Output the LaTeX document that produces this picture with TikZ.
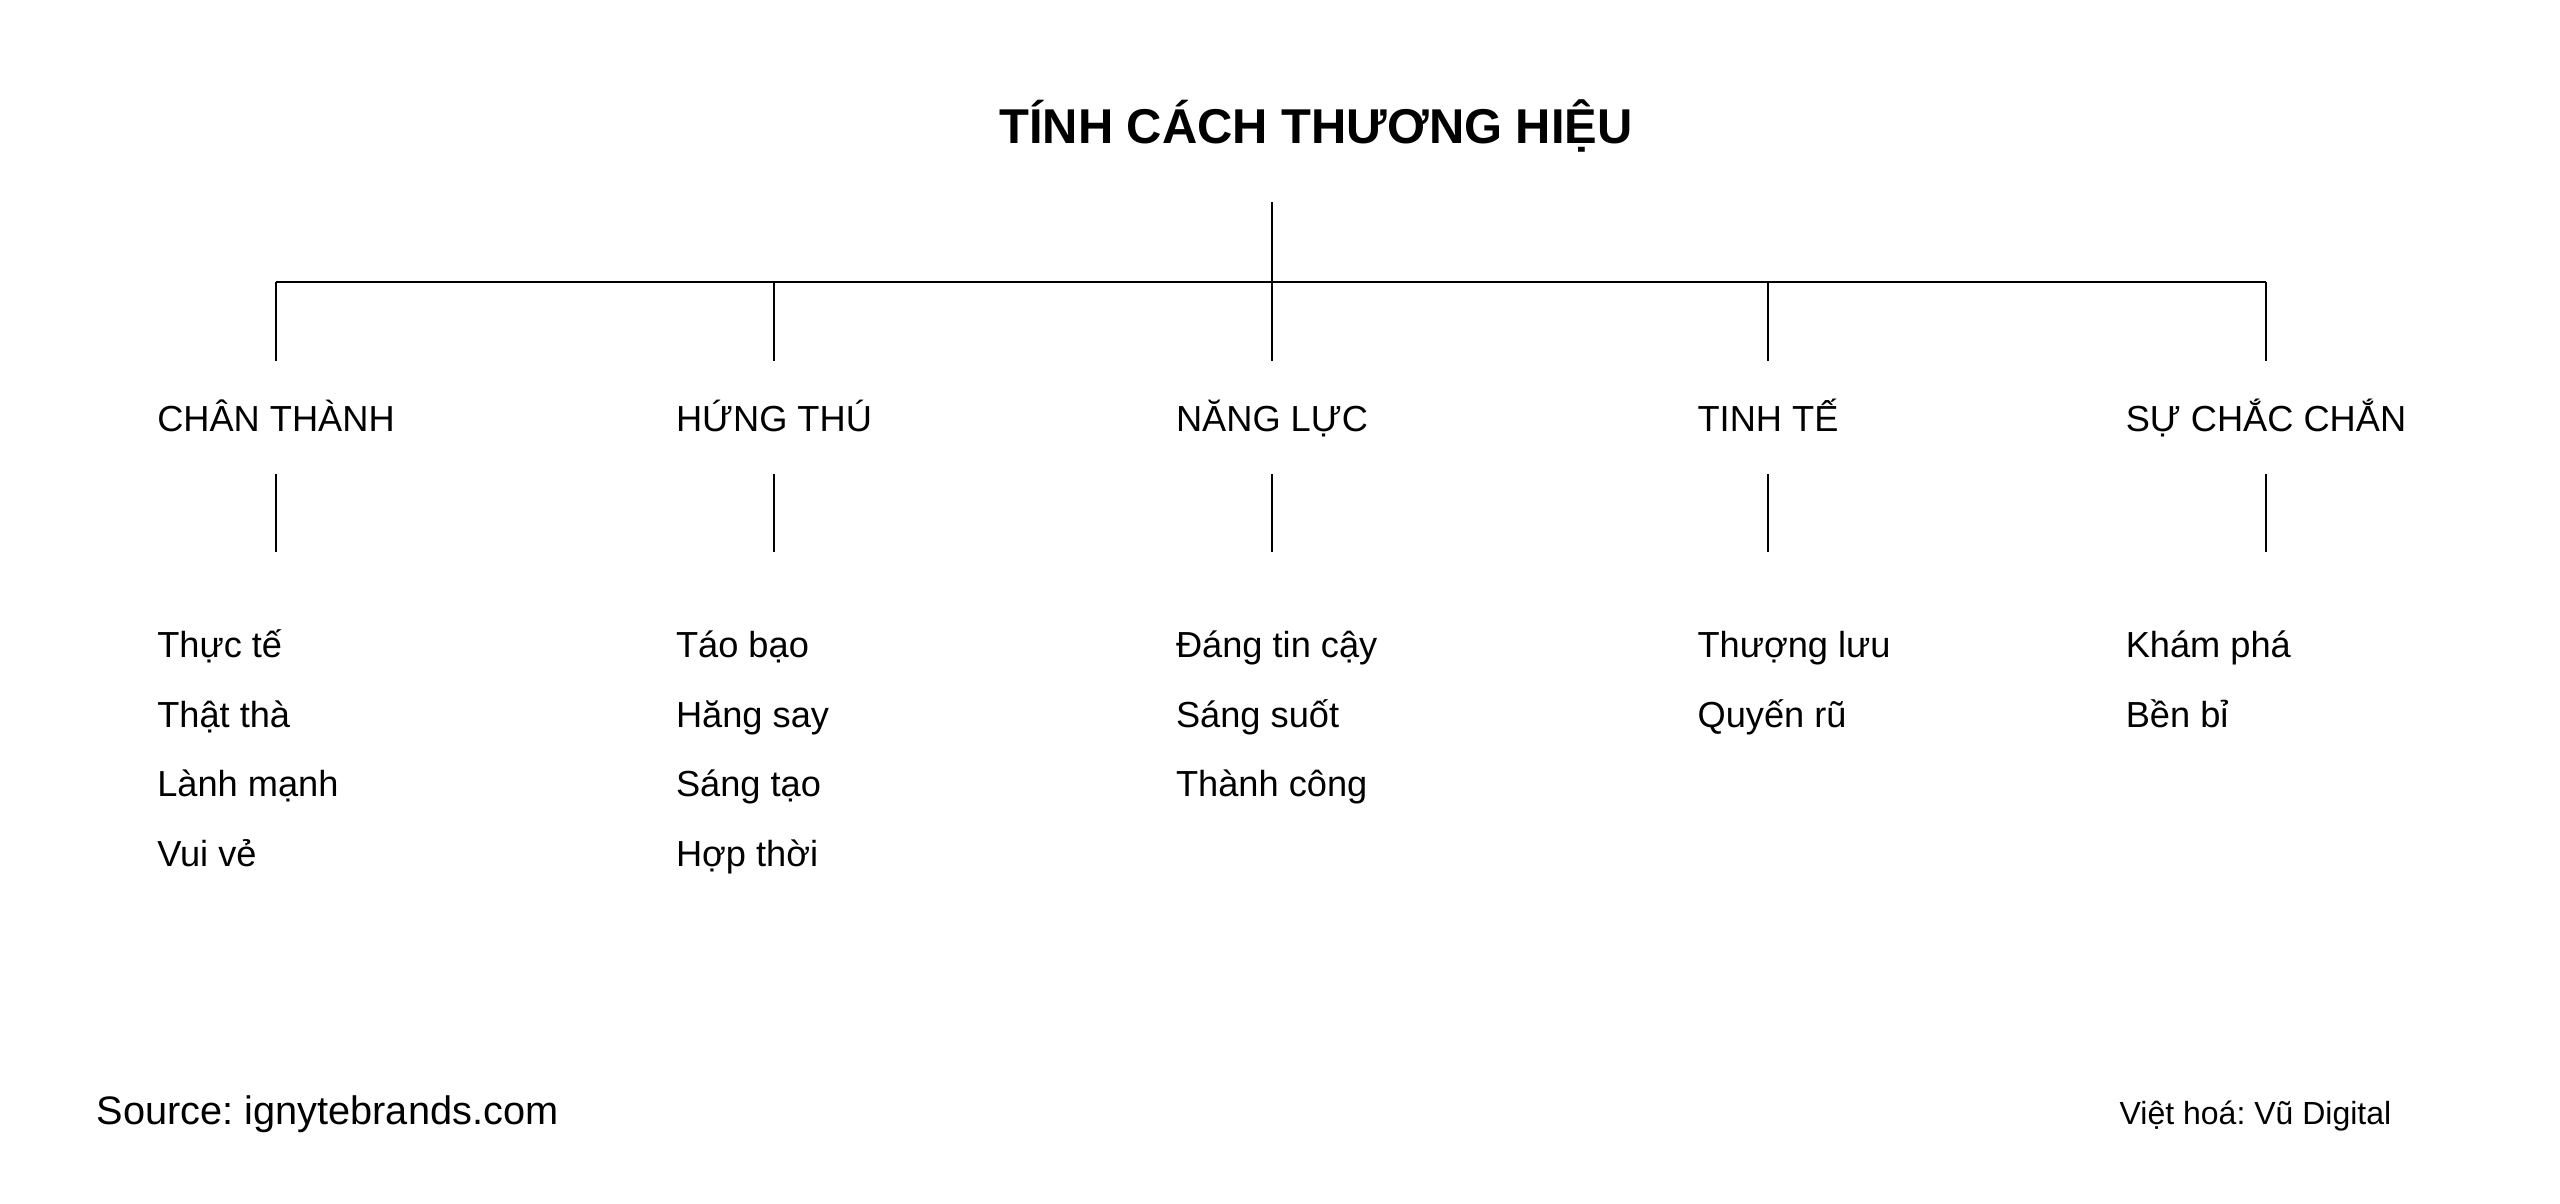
\documentclass[tikz,border=0pt]{standalone}
\usepackage{fontspec}
\setmainfont{Liberation Sans}
\frenchspacing
\begin{document}
\begin{tikzpicture}[x=0.01cm, y=-0.01cm,
    catlabel/.style={inner sep=0pt, anchor=base, font=\fontsize{10.3}{12}\selectfont},
    traitlabel/.style={inner sep=0pt, anchor=base west, font=\fontsize{10.3}{12}\selectfont},
    link/.style={line width=0.6pt}]
    \useasboundingbox (0,0) rectangle (2560,1204);
    \node [inner sep=0pt, anchor=base, font=\fontsize{13.9}{17}\selectfont\bfseries] (title) at (1316,144) {TÍNH CÁCH THƯƠNG HIỆU};
    \coordinate (root) at (1272,202);
    \coordinate (bar) at (1272,282);
    \coordinate (drop) at (1272,361);
    \coordinate (lotop) at (1272,474);
    \coordinate (lobot) at (1272,552);
    \node [catlabel] (cat1) at (276,432) {CHÂN THÀNH};
    \node [catlabel] (cat2) at (774,432) {HỨNG THÚ};
    \node [catlabel] (cat3) at (1272,432) {NĂNG LỰC};
    \node [catlabel] (cat4) at (1768,432) {TINH TẾ};
    \node [catlabel] (cat5) at (2266,432) {SỰ CHẮC CHẮN};
    \draw [link] (root) -- (bar);
    \draw [link] (cat1 |- bar) -- (cat5 |- bar);
    \foreach \i in {1,...,5} {
        \draw [link] (cat\i |- bar) -- (cat\i |- drop);
        \draw [link] (cat\i |- lotop) -- (cat\i |- lobot);
    }
    \node [traitlabel] (t11) at (cat1.west |- 0,658) {Thực tế};
    \node [traitlabel] (t12) at (cat1.west |- 0,728) {Thật thà};
    \node [traitlabel] (t13) at (cat1.west |- 0,797) {Lành mạnh};
    \node [traitlabel] (t14) at (cat1.west |- 0,867) {Vui vẻ};
    \node [traitlabel] (t21) at (cat2.west |- 0,658) {Táo bạo};
    \node [traitlabel] (t22) at (cat2.west |- 0,728) {Hăng say};
    \node [traitlabel] (t23) at (cat2.west |- 0,797) {Sáng tạo};
    \node [traitlabel] (t24) at (cat2.west |- 0,867) {Hợp thời};
    \node [traitlabel] (t31) at (cat3.west |- 0,658) {Đáng tin cậy};
    \node [traitlabel] (t32) at (cat3.west |- 0,728) {Sáng suốt};
    \node [traitlabel] (t33) at (cat3.west |- 0,797) {Thành công};
    \node [traitlabel] (t41) at (cat4.west |- 0,658) {Thượng lưu};
    \node [traitlabel] (t42) at (cat4.west |- 0,728) {Quyến rũ};
    \node [traitlabel] (t51) at (cat5.west |- 0,658) {Khám phá};
    \node [traitlabel] (t52) at (cat5.west |- 0,728) {Bền bỉ};
    \node [inner sep=0pt, anchor=base west, font=\fontsize{11.3}{14}\selectfont] (source) at (96,1125) {Source: ignytebrands.com};
    \node [inner sep=0pt, anchor=base west, font=\fontsize{9.1}{11}\selectfont] (credit) at (2119,1125) {Việt hoá: Vũ Digital};
\end{tikzpicture}
\end{document}
